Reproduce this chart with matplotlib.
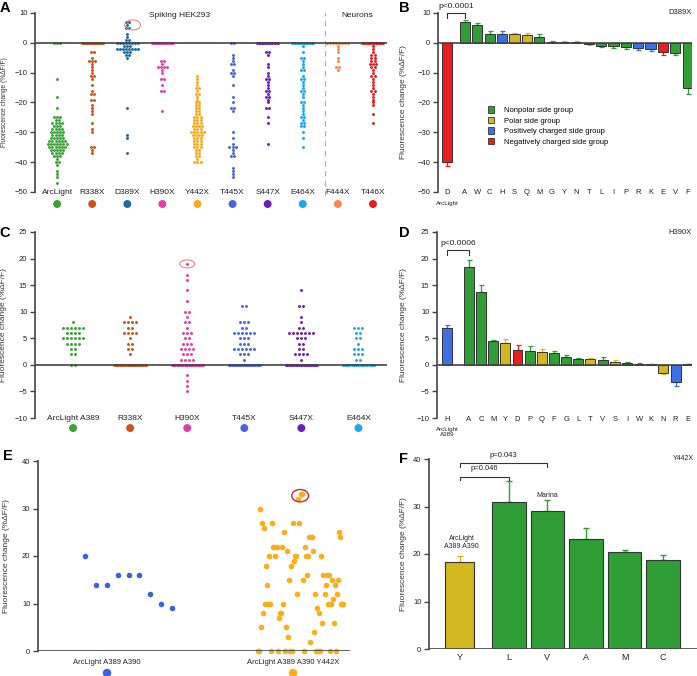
import matplotlib
matplotlib.use("Agg")
import matplotlib.pyplot as plt
import numpy as np
from matplotlib.patches import Ellipse, Patch

plt.rcParams['font.family'] = ['Liberation Sans', 'DejaVu Sans']

# ---------------- data ----------------
# panel A: spiking HEK293 / neurons, dF/F per cell
a_labels = ["ArcLight", "R338X", "D389X", "H390X", "Y442X", "T445X", "S447X", "E464X", "F444X", "T446X"]
a_colors = ["#3aa335", "#c8541c", "#1f6aa0", "#e23ca8", "#f7ab1e", "#4a63e0", "#6b1fb5", "#1aa7ee", "#f5884f", "#e81c22"]
a_arclight = [0, 0, 0, -12, -18, -22, -25, -25, -25, -26, -26, -27, -27, -27, -27, -28, -28, -28, -29, -29, -29,
              -29, -30, -30, -30, -30, -30, -31, -31, -31, -31, -32, -32, -32, -32, -32, -33, -33, -33, -33, -33,
              -33, -34, -34, -34, -34, -34, -34, -34, -35, -35, -35, -35, -35, -35, -36, -36, -36, -36, -36,
              -37, -37, -37, -37, -38, -38, -38, -39, -40, -40, -41, -43, -44, -45, -47]
a_r338x = [0] * 20 + [-3, -3, -5, -6, -6, -6, -7, -8, -9, -10, -11, -11, -12, -14, -16, -17, -17, -19, -19, -21,
                      -22, -23, -24, -27, -29, -30, -35, -35, -36, -37]
a_d389x = [7, 7, 6, 5, 5, 3, 2, 1, 1] + [0] * 8 + [-1, -1, -1, -2, -2, -2, -2, -2, -2, -2, -2, -3, -3, -3, -4,
                                                  -4, -5, -22, -31, -32, -37]
a_h390x = [0] * 15 + [-6, -6, -7, -8, -8, -8, -8, -9, -10, -12, -12, -14, -16, -16, -23]
a_y442x = [-11, -12, -13, -14, -15, -15, -16, -17, -17, -18, -19, -20, -20, -21, -21, -22, -22, -23, -23, -24,
           -24, -25, -25, -25, -26, -26, -26, -27, -27, -27, -28, -28, -28, -28, -29, -29, -29, -30, -30, -30,
           -30, -30, -31, -31, -31, -31, -32, -32, -32, -33, -33, -33, -34, -34, -34, -35, -35, -35, -36, -36,
           -37, -37, -38, -38, -39, -40, -40, -40]
a_t445x = [0, 0, -4, -5, -6, -7, -7, -9, -10, -10, -11, -14, -18, -20, -22, -22, -23, -30, -32, -34, -35, -35,
           -35, -36, -37, -38, -38, -42, -43, -44, -45]
a_s447x = [0] * 15 + [-3, -3, -4, -7, -8, -10, -11, -12, -12, -13, -14, -15, -16, -16, -17, -18, -18, -19, -20,
                      -22, -22, -25, -27, -34]
a_e464x = [0] * 15 + [-1, -3, -5, -5, -6, -7, -8, -9, -9, -11, -12, -12, -13, -14, -15, -16, -16, -17, -18, -20,
                      -20, -21, -22, -23, -24, -25, -25, -26, -27, -27, -28, -28, -30, -32, -35]
a_f444x = [0] * 8 + [-1, -2, -3, -5, -6, -8, -8, -9]
a_t446x = [0] * 15 + [-1, -2, -3, -4, -4, -5, -5, -6, -6, -7, -7, -7, -8, -8, -9, -10, -11, -11, -12, -13, -14,
                      -15, -16, -16, -17, -18, -19, -20, -21, -24, -27]
a_groups = [a_arclight, a_r338x, a_d389x, a_h390x, a_y442x, a_t445x, a_s447x, a_e464x, a_f444x, a_t446x]

# panel B: D389X substitutions
b_labels = ["D", "A", "W", "C", "H", "S", "Q", "M", "G", "Y", "N", "T", "L", "I", "P", "R", "K", "E", "V", "F"]
b_values = [-40, 7, 6, 3, 3, 2.8, 2.5, 2, 0.3, 0.2, 0.2, -0.3, -1, -1.1, -1.5, -1.8, -2.2, -3, -3.5, -15]
b_err = [1.2, 0.6, 0.8, 0.8, 1.1, 0.6, 0.7, 0.8, 0.2, 0.3, 0.3, 0.3, 0.4, 0.5, 0.6, 0.5, 0.7, 1.0, 0.5, 2.2]
b_group = ["neg", "np", "np", "np", "pos", "pol", "pol", "np", "np", "pol", "pol", "pol", "np", "np", "np",
           "pos", "pos", "neg", "np", "np"]

# panel C: ArcLight A389 background
c_labels = ["ArcLight A389", "R338X", "H390X", "T445X", "S447X", "E464X"]
c_colors = ["#3aa335", "#c8541c", "#e23ca8", "#4a63e0", "#6b1fb5", "#1aa7ee"]
c_arclight = [0, 0, 2, 2, 3, 3, 4, 4, 4, 4, 5, 5, 5, 5, 5, 5, 6, 6, 6, 6, 7, 7, 7, 7, 7, 7, 8]
c_r338x = [0] * 25 + [2, 3, 3, 4, 4, 5, 6, 6, 6, 6, 7, 7, 8, 8, 8, 8, 9]
c_h390x = [0] * 25 + [19, 16, 17, 14, 12, 10, 10, 9, 8, 8, 7, 6, 6, 6, 5, 5, 4, 4, 4, 3, 3, 3, 3, 2, 2, 2,
                      1, 1, 1, 1, -2, -3, -4, -5]
c_t445x = [0] * 20 + [1, 2, 2, 2, 3, 3, 3, 3, 3, 3, 4, 4, 4, 5, 5, 5, 6, 6, 6, 6, 6, 6, 7, 7, 8, 8, 8, 11, 11]
c_s447x = [0] * 20 + [1, 2, 2, 2, 2, 3, 3, 4, 4, 5, 5, 5, 6, 6, 6, 6, 6, 6, 6, 7, 7, 8, 9, 11, 11, 14]
c_e464x = [0] * 15 + [1, 1, 2, 2, 2, 3, 3, 3, 4, 5, 5, 6, 6, 7, 7, 7]
c_groups = [c_arclight, c_r338x, c_h390x, c_t445x, c_s447x, c_e464x]

# panel D: H390X substitutions
d_labels = ["H", "A", "C", "M", "Y", "D", "P", "Q", "F", "G", "L", "T", "V", "S", "I", "W", "K", "N", "R", "E"]
d_values = [7, 18.5, 13.8, 4.5, 4.2, 2.8, 2.6, 2.5, 2.2, 1.4, 1.1, 1.1, 1.0, 0.6, 0.4, 0.2, 0.15, -1.5, -3.3, 0.1]
d_err = [0.5, 1.2, 1.3, 0.2, 0.6, 0.9, 1.0, 0.5, 0.4, 0.4, 0.2, 0.2, 0.5, 0.4, 0.1, 0.1, 0.1, 0.3, 0.7, 0.1]
d_group = ["pos", "np", "np", "np", "pol", "neg", "np", "pol", "np", "np", "np", "pol", "np", "pol", "np", "np",
           "pos", "pol", "pos", "neg"]

# panel E: A389 A390 background vs Y442X
e_labels = ["ArcLight A389 A390", "ArcLight A389 A390 Y442X"]
e_colors = ["#3d5fe6", "#fbae1a"]
e_base = [20, 14, 14, 16, 16, 16, 12, 10, 9]
e_y442x = [0, 0, 30, 5, 27, 8, 26, 10, 18, 14, 10, 20, 10, 0, 27, 22, 22, 20, 22, 0, 7, 8, 8, 22, 10, 25, 0, 5,
           21, 3, 15, 0, 18, 0, 27, 19, 20, 20, 12, 32, 27, 33, 33, 15, 0, 22, 20, 16, 20, 24, 2, 24, 24, 21, 4,
           12, 0, 9, 0, 8, 0, 20, 6, 16, 12, 14, 16, 10, 16, 0, 10, 15, 11, 6, 14, 0, 12, 15, 25, 24, 10, 10, 10]

# panel F: Y442X substitutions
f_labels = ["Y", "L", "V", "A", "M", "C"]
f_values = [18.4, 31, 29.1, 23.2, 20.4, 18.7]
f_err = [1.2, 4.3, 2.2, 2.3, 0.5, 1.0]
f_group = ["pol", "np", "np", "np", "np", "np"]

group_colors = {"np": "#2e9e35", "pol": "#d2b81e", "pos": "#3d6fe8", "neg": "#ee1c1c"}
group_names = {"np": "Nonpolar side group", "pol": "Polar side group",
               "pos": "Positively charged side group", "neg": "Negatively charged side group"}

YLABEL = "Fluorescence change (%ΔF/F)"
W, H = 697, 676


def rect(x0, y0, x1, y1):
    # pixel box -> figure fraction
    return [x0 / W, 1 - y1 / H, (x1 - x0) / W, (y1 - y0) / H]


def swarm(vals, step, maxw):
    vals = np.asarray(vals, float)
    off = np.zeros(len(vals))
    for v in np.unique(vals):
        idx = np.where(vals == v)[0]
        k = len(idx)
        s = step if k < 2 else min(step, maxw / (k - 1))
        off[idx] = (np.arange(k) - (k - 1) / 2) * s
    return off


def style_axis(ax, ylim, yticks, labx, lab_fs=6.0):
    for s in ["top", "right", "bottom"]:
        ax.spines[s].set_visible(False)
    ax.spines["left"].set_color("#444444")
    ax.spines["left"].set_linewidth(1.2)
    ax.set_ylim(*ylim)
    ax.set_yticks(yticks)
    ax.tick_params(axis="y", labelsize=5.5, length=3.5, width=1, colors="#444444", labelcolor="#222222", pad=2)
    ax.set_xticks([])
    ax.axhline(0, color="#444444", lw=1.2, zorder=4)
    ax.set_ylabel(YLABEL, fontsize=lab_fs, color="#333333")
    ax.yaxis.set_label_coords(labx, 0.5)


def bars(ax, pos, vals, errs, groups, width=0.82):
    cols = [group_colors[g] for g in groups]
    ax.bar(pos, vals, width=width, color=cols, edgecolor="#333333", linewidth=0.7, zorder=2)
    for p, v, e, c in zip(pos, vals, errs, cols):
        ye = [[0], [e]] if v >= 0 else [[e], [0]]
        ax.errorbar(p, v, yerr=ye, fmt="none", ecolor=c, elinewidth=0.9, capsize=1.8, capthick=0.9, zorder=1)


def bracket(ax, x0, x1, y, drop, text, ty, fs=6):
    ax.plot([x0, x0, x1, x1], [y - drop, y, y, y - drop], color="#333333", lw=0.8, clip_on=False)
    ax.text((x0 + x1) / 2, ty, text, ha="center", va="center", fontsize=fs, color="#222222", clip_on=False)


def cat_labels(ax, xs, labels, y, fs=6):
    tr = ax.get_xaxis_transform()
    for x, lab in zip(xs, labels):
        ax.text(x, y, lab, transform=tr, ha="center", va="center", fontsize=fs, color="#222222")


def cat_dots(ax, xs, colors, y, size=22):
    tr = ax.get_xaxis_transform()
    ax.scatter(xs, [y] * len(xs), s=size, c=colors, transform=tr, clip_on=False, zorder=5)


fig = plt.figure(figsize=(W / 100, H / 100), dpi=100)

# ---------------- A ----------------
axA = fig.add_axes(rect(35, 13, 387, 192))
style_axis(axA, (-50, 10), np.arange(-50, 11, 10), -0.077, lab_fs=4.8)
for i, (vals, col) in enumerate(zip(a_groups, a_colors)):
    off = swarm(vals, 0.09, 0.6)
    axA.scatter(i + off, vals, s=4.5, color=col, linewidths=0, zorder=3)
axA.set_xlim(-0.63, 9.4)
axA.axvline(7.63, color="#aaaaaa", lw=0.8, ls=(0, (5, 4)), ymin=-0.02, clip_on=False)
axA.text(3.5, 9, "Spiking HEK293", ha="center", va="center", fontsize=6, color="#222222")
axA.text(8.55, 9, "Neurons", ha="center", va="center", fontsize=6, color="#222222")
axA.add_patch(Ellipse((2.15, 6), 0.45, 3.4, fill=False, ec="#e87a7a", lw=0.7, zorder=5))
cat_labels(axA, np.arange(10), a_labels, -0.005)
cat_dots(axA, np.arange(10), a_colors, -0.067)

# ---------------- B ----------------
axB = fig.add_axes(rect(438, 13, 692, 192))
style_axis(axB, (-50, 10), np.arange(-50, 11, 10), -0.122)
b_pos = np.r_[0, 1.45 + np.arange(len(b_labels) - 1)]
bars(axB, b_pos, b_values, b_err, b_group)
axB.set_xlim(-0.73, 19.8)
cat_labels(axB, b_pos, b_labels, -0.005, fs=5.5)
axB.text(0, -0.065, "ArcLight", transform=axB.get_xaxis_transform(), ha="center", va="center", fontsize=4.5,
         color="#222222")
bracket(axB, 0, b_pos[1], 10, 1.7, "p<0.0001", 12.3)
axB.text(1.0, 1.0, "D389X", transform=axB.transAxes, ha="right", va="center", fontsize=5.5, color="#222222")
handles = [Patch(facecolor=group_colors[g], edgecolor="#333333", linewidth=0.6) for g in ["np", "pol", "pos", "neg"]]
axB.legend(handles, [group_names[g] for g in ["np", "pol", "pos", "neg"]], loc="upper left",
           bbox_to_anchor=(0.18, 0.50), frameon=False, fontsize=5.5, handlelength=0.9, handleheight=0.9,
           labelspacing=0.35, handletextpad=1.2, borderpad=0)

# ---------------- C ----------------
axC = fig.add_axes(rect(35, 232, 387, 418))
style_axis(axC, (-10, 25), np.arange(-10, 26, 5), -0.08)
for i, (vals, col) in enumerate(zip(c_groups, c_colors)):
    off = swarm(vals, 0.07, 0.55)
    axC.scatter(i + off, vals, s=4.5, color=col, linewidths=0, zorder=3)
axC.set_xlim(-0.667, 5.5)
axC.add_patch(Ellipse((2, 19), 0.26, 1.5, fill=False, ec="#e87a7a", lw=0.7, zorder=5))
cat_labels(axC, np.arange(6), c_labels, 0.0)
cat_dots(axC, np.arange(6), c_colors, -0.054)

# ---------------- D ----------------
axD = fig.add_axes(rect(437, 232, 692, 418))
style_axis(axD, (-10, 25), np.arange(-10, 26, 5), -0.118)
d_pos = np.r_[0, 1.8 + np.arange(len(d_labels) - 1)]
bars(axD, d_pos, d_values, d_err, d_group)
axD.set_xlim(-0.82, 20.15)
cat_labels(axD, d_pos, d_labels, -0.01, fs=5.5)
axD.text(0, -0.075, "ArcLight\nA389", transform=axD.get_xaxis_transform(), ha="center", va="center",
         fontsize=4.5, color="#222222", linespacing=1.2)
bracket(axD, 0, d_pos[1], 21.6, 0.9, "p<0.0006", 22.9)
axD.text(1.0, 1.0, "H390X", transform=axD.transAxes, ha="right", va="center", fontsize=5.5, color="#222222")

# ---------------- E ----------------
axE = fig.add_axes(rect(38, 461, 350, 651))
style_axis(axE, (0, 40), np.arange(0, 41, 10), -0.09)
off_base = (np.arange(len(e_base)) - 2) * 0.058
axE.scatter(0 + off_base, e_base, s=16, color=e_colors[0], linewidths=0, zorder=3)
off_y = np.linspace(-0.19, 0.27, len(e_y442x))
axE.scatter(1 + off_y, e_y442x, s=16, color=e_colors[1], linewidths=0, zorder=3, clip_on=False)
axE.set_xlim(-0.371, 1.306)
top = np.array(e_y442x) >= 32
axE.add_patch(Ellipse((1 + off_y[top].mean(), 32.7), 0.09, 2.6, fill=False, ec="#d8202a", lw=1.0, zorder=5))
cat_labels(axE, [0, 1], e_labels, -0.063, fs=5.5)
cat_dots(axE, [0, 1], e_colors, -0.116, size=26)

# ---------------- F ----------------
axF = fig.add_axes(rect(429, 459, 697, 649))
style_axis(axF, (0, 40), np.arange(0, 41, 10), -0.082)
f_pos = np.r_[0, 1.27 + np.arange(len(f_labels) - 1)]
widths = [0.75] + [0.87] * (len(f_labels) - 1)
cols = [group_colors[g] for g in f_group]
axF.bar(f_pos, f_values, width=widths, color=cols, edgecolor="#333333", linewidth=0.8, zorder=2)
for p, v, e, c in zip(f_pos, f_values, f_err, cols):
    axF.errorbar(p, v, yerr=[[0], [e]], fmt="none", ecolor=c, elinewidth=1.0, capsize=2, capthick=1.0, zorder=1)
axF.set_xlim(-0.8, 6.15)
cat_labels(axF, f_pos, f_labels, -0.047, fs=6.5)
bracket(axF, 0, f_pos[1], 36.2, 0.7, "p=0.046", 38.1, fs=5.5)
bracket(axF, 0, f_pos[2], 39.2, 0.9, "p=0.043", 40.8, fs=5.5)
axF.text(f_pos[2], 32.4, "Marina", ha="center", va="center", fontsize=5, color="#222222")
axF.text(0.05, 22.4, "ArcLight\nA389 A390", ha="center", va="center", fontsize=5, color="#222222",
         linespacing=1.3)
axF.text(0.99, 1.0, "Y442X", transform=axF.transAxes, ha="right", va="center", fontsize=5, color="#222222")

# panel letters
for lab, x, y in [("A", 5, 8), ("B", 404, 8), ("C", 5, 233), ("D", 404, 233), ("E", 8, 456), ("F", 404, 459)]:
    fig.text(x / W, 1 - y / H, lab, ha="center", va="center", fontsize=10.5, fontweight="bold")

fig.savefig("out.png", dpi=100)
